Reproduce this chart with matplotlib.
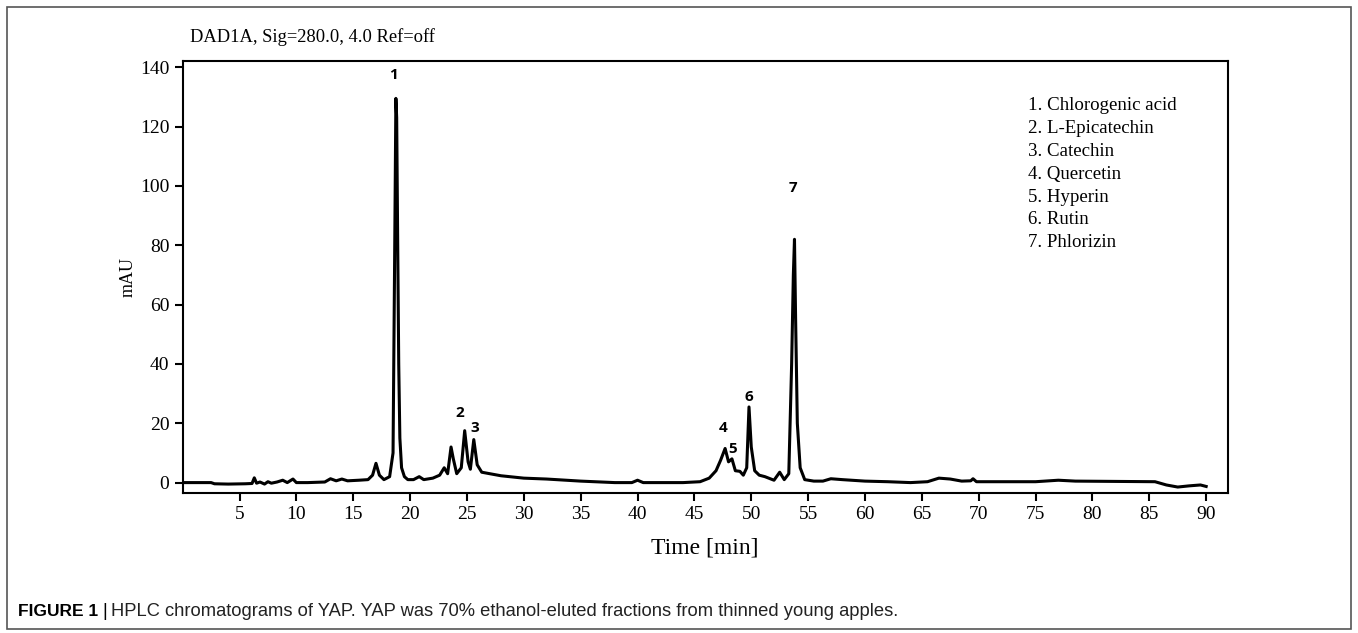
import matplotlib.pyplot as plt
from matplotlib.patches import Rectangle

# chromatogram trace (time in min, signal in mAU)
time = [0.0, 1.5, 2.5, 2.8, 4.0, 5.5, 6.1, 6.3, 6.5, 6.8, 7.2, 7.5, 7.8, 8.3, 8.8, 9.2, 9.7, 10.0,
        11.0, 12.5, 13.0, 13.5, 14.0, 14.5, 15.5, 16.3, 16.7, 17.0, 17.3, 17.7, 18.2, 18.5, 18.65,
        18.75, 18.82, 18.9, 19.0, 19.1, 19.25, 19.5, 19.8, 20.3, 20.8, 21.2, 22.0, 22.6, 23.0,
        23.3, 23.6, 23.8, 24.1, 24.5, 24.8, 25.1, 25.3, 25.6, 25.9, 26.3, 27.0, 28.0, 30.0,
        32.0, 35.0, 38.0, 39.5, 40.0, 40.5, 42.0, 44.0, 45.5, 46.3, 46.9, 47.3, 47.7, 48.0,
        48.3, 48.6, 49.0, 49.3, 49.6, 49.8, 50.0, 50.3, 50.7, 51.2, 52.0, 52.5, 52.9, 53.3,
        53.55, 53.7, 53.8, 53.9, 54.05, 54.3, 54.7, 55.5, 56.3, 57.0, 58.0, 60.0, 62.0, 64.0,
        65.5, 66.5, 67.5, 68.5, 69.3, 69.5, 69.8, 72.0, 75.0, 77.0, 78.5, 82.0, 85.5, 86.5,
        87.5, 88.5, 89.5, 90.0]
signal = [0.0, 0.0, 0.0, -0.4, -0.5, -0.4, -0.3, 1.6, -0.2, 0.2, -0.5, 0.3, -0.2, 0.2, 0.8,
          0.0, 1.2, 0.0, 0.0, 0.2, 1.3, 0.6, 1.2, 0.6, 0.8, 1.0, 2.5, 6.5, 2.5, 1.0, 2.0, 10.0,
          80.0, 129.5, 123.0, 85.0, 40.0, 15.0, 5.0, 2.0, 1.0, 1.0, 2.0, 1.0, 1.5, 2.5, 5.0,
          3.0, 12.0, 8.0, 3.0, 5.0, 17.5, 7.0, 4.5, 14.5, 6.0, 3.5, 3.0, 2.3, 1.5, 1.2, 0.5,
          0.0, 0.0, 0.8, 0.0, 0.0, 0.0, 0.3, 1.5, 4.0, 7.5, 11.5, 7.0, 8.0, 4.0, 3.8, 2.5,
          5.0, 25.5, 12.0, 4.0, 2.5, 2.0, 0.8, 3.5, 1.0, 3.0, 40.0, 70.0, 82.0, 55.0, 20.0,
          5.0, 1.0, 0.5, 0.5, 1.3, 1.0, 0.5, 0.3, 0.0, 0.3, 1.5, 1.2, 0.5, 0.6, 1.3, 0.3,
          0.3, 0.3, 0.8, 0.5, 0.4, 0.3, -0.8, -1.5, -1.1, -0.8, -1.3]

peak_ids = ['1', '2', '3', '4', '5', '6', '7']
peak_x = [18.5, 24.4, 25.7, 47.5, 48.4, 49.8, 53.7]
peak_y = [137.5, 23.5, 18.5, 18.5, 11.4, 29.0, 99.4]
compounds = ['Chlorogenic acid', 'L-Epicatechin', 'Catechin', 'Quercetin',
             'Hyperin', 'Rutin', 'Phlorizin']

xticks = list(range(5, 95, 5))
yticks = list(range(0, 160, 20))

serif = 'Liberation Serif'

fig = plt.figure(figsize=(13.58, 6.33), dpi=100)
ax = fig.add_axes([0.1345, 0.2212, 0.7696, 0.6829])

ax.plot(time, signal, color='black', lw=2.2)

ax.set_xlim(0, 91.9)
ax.set_ylim(-3.5, 142.2)
ax.set_xticks(xticks)
ax.set_yticks(yticks)
ax.tick_params(direction='out', length=6, width=1.5, labelsize=14)
for lab in ax.get_xticklabels() + ax.get_yticklabels():
    lab.set_family(serif)
for sp in ax.spines.values():
    sp.set_linewidth(1.5)

for pid, px, py in zip(peak_ids, peak_x, peak_y):
    ax.text(px, py, pid, ha='center', va='center', fontsize=11,
            fontweight='bold', family='Open Sans')

legend_lines = ['%d. %s' % (i + 1, c) for i, c in enumerate(compounds)]
for i, line in enumerate(legend_lines):
    fig.text(1028 / 1358, 1 - (106 + 22.8 * i) / 633, line, family=serif,
             fontsize=13.6, ha='left', va='center')

fig.text(190 / 1358, 1 - 37 / 633, 'DAD1A, Sig=280.0, 4.0 Ref=off', family=serif,
         fontsize=13.3, ha='left', va='center')
ax.set_ylabel('mAU', family=serif, fontsize=13)
ax.yaxis.set_label_coords(-0.044, 0.5)
ax.set_xlabel('Time [min]', family=serif, fontsize=17, labelpad=10)

# outer frame and caption
fig.patches.append(Rectangle((7 / 1358, 4 / 633), 1344 / 1358, 622 / 633,
                             transform=fig.transFigure, fill=False,
                             edgecolor='#555555', lw=1.2))
cap_y = 1 - 612 / 633
fig.text(18 / 1358, cap_y, 'FIGURE 1', family='Liberation Sans',
         fontweight='bold', fontsize=12.5, ha='left', va='center')
fig.text(102 / 1358, cap_y, '|', family='Liberation Sans',
         fontsize=13, ha='left', va='center')
fig.text(111 / 1358, cap_y,
         'HPLC chromatograms of YAP. YAP was 70% ethanol-eluted fractions from thinned young apples.',
         family='Liberation Sans', fontsize=13.2, color='#222222', ha='left', va='center')

fig.savefig('out.png', dpi=100)
